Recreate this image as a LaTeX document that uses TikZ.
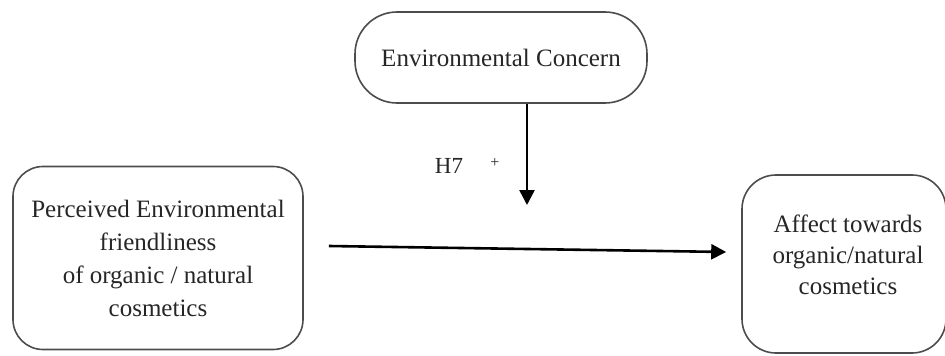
\documentclass[tikz,border=0pt]{standalone}
\usepackage{fontspec}
\setmainfont{Liberation Serif}
\usepackage{tikz}
\usetikzlibrary{arrows.meta, calc}

\begin{document}
\begin{tikzpicture}[x=1pt, y=-1pt,
  box/.style={draw=black!70, line width=1.6pt, rounded corners=30pt, align=center,
    text=black!85, font=\fontsize{25}{33}\selectfont, inner sep=0pt},
  txt/.style={align=center, text=black!85, font=\fontsize{25}{31}\selectfont, inner sep=0pt},
  arr/.style={line width=2.6pt, -{Triangle[length=15pt, width=15pt]}},
  lbl/.style={text=black!85, inner sep=0pt}]
\useasboundingbox (0,0) rectangle (945,356);
\node[box, rounded corners=42pt, minimum width=292pt, minimum height=91pt] (env) at (501,57.5) {Environmental Concern};
\node[box, minimum width=290pt, minimum height=183pt] (pef) at (158,258) {Perceived Environmental\\friendliness\\of organic / natural\\cosmetics};
\node[box, rounded corners=34pt, minimum width=204pt, minimum height=178pt] (aff) at (844,264) {};
\node[txt] (afftxt) at ($(aff.center)+(4,-9)$) {Affect towards\\organic/natural\\cosmetics};
\coordinate (mod) at (527,205);
\node[lbl, font=\fontsize{23}{28}\selectfont] (h7) at (449,166) {H7};
\node[lbl, font=\fontsize{16}{18}\selectfont] (sign) at (495,163) {+};
\draw[arr] (env.south -| mod) -- (mod);
\draw[arr] ($(pef.east)+(25,-12)$) -- ($(aff.west)+(-15,-12)$);
\end{tikzpicture}
\end{document}
